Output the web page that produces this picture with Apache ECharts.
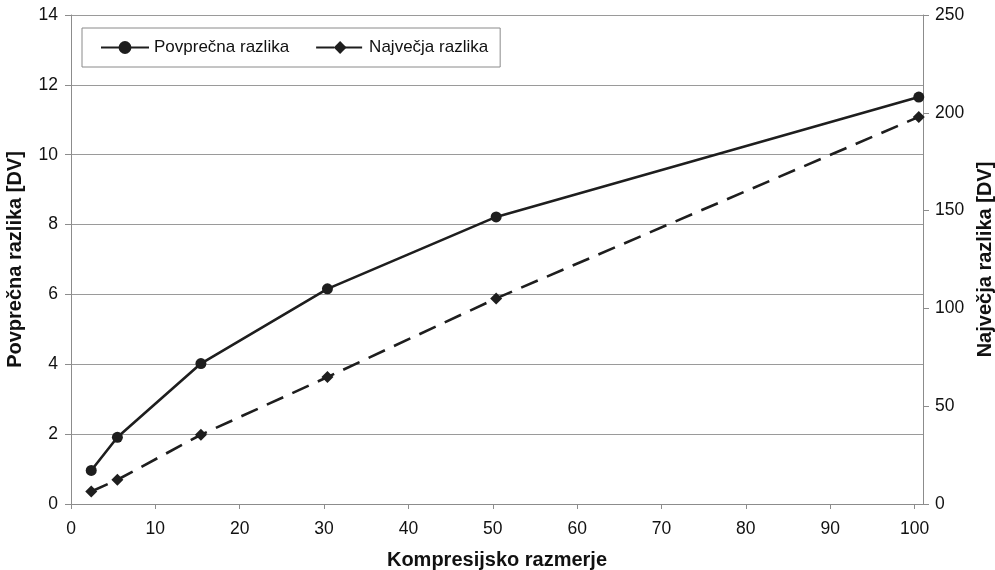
<!DOCTYPE html>
<html>
<head>
<meta charset="utf-8">
<script src="https://cdn.jsdelivr.net/npm/echarts@6/dist/echarts.min.js"></script>
<style>
html,body{margin:0;padding:0;background:#fff;}
#chart{width:995px;height:570px;}
</style>
</head>
<body>
<div id="chart"></div>
<script>
const compression = [2.4, 5.5, 15.4, 30.4, 50.4, 100.5];
const avgDiff = [0.96, 1.91, 4.02, 6.16, 8.22, 11.65];
const maxDiff = [6.4, 12.4, 35.4, 64.9, 105.1, 197.9];
const seriesNames = ['Povprečna razlika', 'Največja razlika'];
const xTitle = 'Kompresijsko razmerje';
const yLeftTitle = 'Povprečna razlika [DV]';
const yRightTitle = 'Največja razlika [DV]';

const FONT = '"Liberation Sans", Arial, sans-serif';
const chart = echarts.init(document.getElementById('chart'), null, {renderer: 'canvas'});
const pairs = (xs, ys) => xs.map((x, i) => [x, ys[i]]);

chart.setOption({
  animation: false,
  backgroundColor: '#fff',
  textStyle: {fontFamily: FONT},
  grid: {left: 71, right: 72, top: 15, bottom: 66, containLabel: false, outerBoundsMode: 'none'},
  legend: {
    left: 82, top: 28,
    padding: [11, 12, 11, 18],
    borderColor: '#8a8a8a', borderWidth: 1,
    backgroundColor: '#fff',
    itemWidth: 48, itemHeight: 16, itemGap: 26,
    textStyle: {fontSize: 17, color: '#111', fontFamily: FONT},
    data: seriesNames
  },
  xAxis: {
    type: 'value', min: 0, max: 101, interval: 10,
    name: xTitle, nameLocation: 'middle', nameGap: 46,
    nameTextStyle: {fontSize: 20, fontWeight: 'bold', color: '#111', fontFamily: FONT},
    axisLine: {show: true, lineStyle: {color: '#8c8c8c', width: 1}},
    axisTick: {show: true, length: 5, lineStyle: {color: '#8c8c8c'}},
    axisLabel: {fontSize: 17.5, color: '#111', margin: 16, showMaxLabel: false, fontFamily: FONT},
    splitLine: {show: false}
  },
  yAxis: [
    {
      type: 'value', min: 0, max: 14, interval: 2, position: 'left',
      name: yLeftTitle, nameLocation: 'middle', nameGap: 46, nameRotate: 90,
      nameTextStyle: {fontSize: 20, fontWeight: 'bold', color: '#111', fontFamily: FONT},
      axisLine: {show: true, lineStyle: {color: '#8c8c8c', width: 1}},
      axisTick: {show: true, length: 6, lineStyle: {color: '#8c8c8c'}},
      axisLabel: {fontSize: 17.5, color: '#111', margin: 13, fontFamily: FONT},
      splitLine: {show: true, lineStyle: {color: '#9a9a9a', width: 1}}
    },
    {
      type: 'value', min: 0, max: 250, interval: 50, position: 'right',
      name: yRightTitle, nameLocation: 'middle', nameGap: 52, nameRotate: 90,
      nameTextStyle: {fontSize: 20, fontWeight: 'bold', color: '#111', fontFamily: FONT},
      axisLine: {show: true, lineStyle: {color: '#8c8c8c', width: 1}},
      axisTick: {show: true, length: 6, lineStyle: {color: '#8c8c8c'}},
      axisLabel: {fontSize: 17.5, color: '#111', margin: 12, fontFamily: FONT},
      splitLine: {show: false}
    }
  ],
  series: [
    {
      name: seriesNames[0], type: 'line', yAxisIndex: 0,
      data: pairs(compression, avgDiff),
      symbol: 'circle', symbolSize: 11,
      itemStyle: {color: '#1e1e1e'},
      lineStyle: {color: '#1e1e1e', width: 2.6}
    },
    {
      name: seriesNames[1], type: 'line', yAxisIndex: 1,
      data: pairs(compression, maxDiff),
      symbol: 'diamond', symbolSize: 12,
      itemStyle: {color: '#1e1e1e'},
      lineStyle: {color: '#1e1e1e', width: 2.6, type: [18, 10]}
    }
  ]
});
</script>
</body>
</html>
